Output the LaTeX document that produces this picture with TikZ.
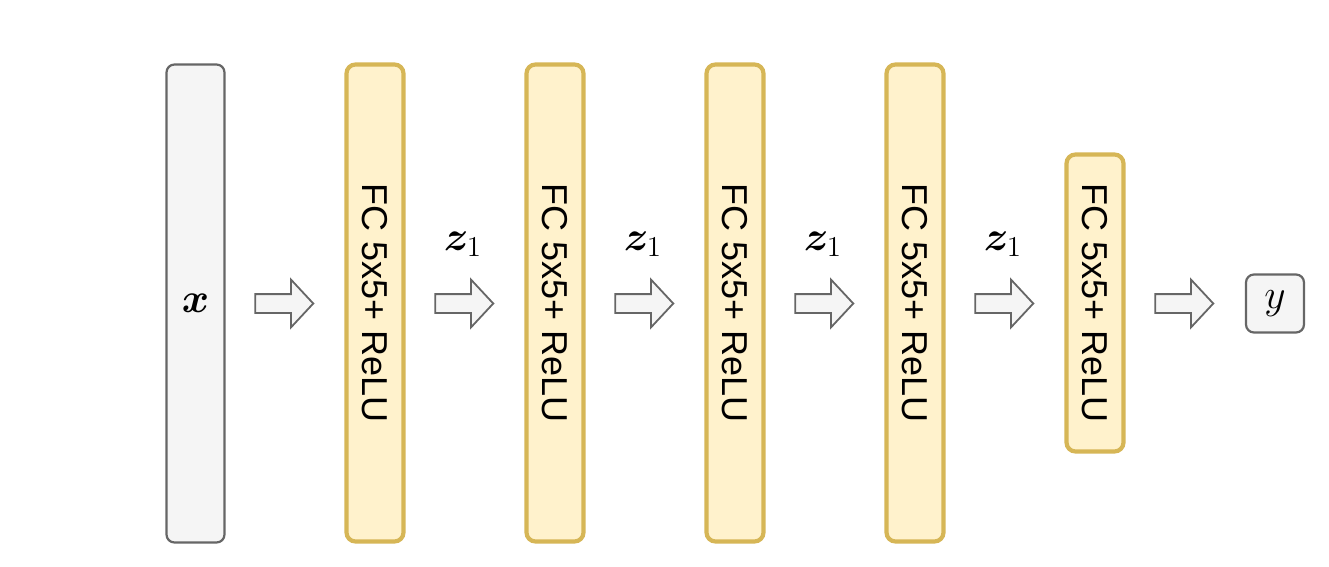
\documentclass[tikz,border=0pt]{standalone}
\usepackage[no-math]{fontspec}
\setmainfont{Liberation Sans}
\usepackage{bm}
\usetikzlibrary{shapes.arrows}
\definecolor{gfill}{HTML}{F5F5F5}
\definecolor{gline}{HTML}{666666}
\definecolor{yfill}{HTML}{FFF2CC}
\definecolor{yline}{HTML}{D6B656}
\begin{document}
\begin{tikzpicture}[x=0.5pt,y=-0.5pt,
  graybox/.style={draw=gline, fill=gfill, line width=1.1pt, rounded corners=4pt, inner sep=0pt},
  fcbox/.style={draw=yline, fill=yfill, line width=2.1pt, rounded corners=4.5pt, inner sep=0pt,
    minimum width=28.5pt, font=\fontsize{18}{20}\selectfont},
  blockarrow/.style={single arrow, draw=gline, fill=gfill, line width=0.9pt, inner sep=0pt,
    inner ysep=4.25pt, minimum height=29pt, minimum width=23pt, single arrow head extend=7.25pt,
    single arrow tip angle=94, anchor=tip},
  zlab/.style={inner sep=0pt, font=\fontsize{22}{24}\selectfont}
]
\useasboundingbox (0,0) rectangle (1329,567);
\node[graybox, minimum width=29pt, minimum height=239pt, font=\fontsize{22}{24}\selectfont] (x) at (195.5,303.5) {$\bm{x}$};
\node[fcbox, minimum height=238.5pt] (f1) at (375,303) {};
\node[fcbox, minimum height=238.5pt] (f2) at (555,303) {};
\node[fcbox, minimum height=238.5pt] (f3) at (735,303) {};
\node[fcbox, minimum height=238.5pt] (f4) at (915,303) {};
\node[fcbox, minimum height=148.5pt] (f5) at (1095,303) {};
\foreach \n in {f1,f2,f3,f4,f5}{
  \node[rotate=-90, inner sep=0pt, font=\fontsize{18}{20}\selectfont] (t\n) at (\n.center) {FC 5x5+ ReLU};
}
\node[graybox, minimum width=29pt, minimum height=29pt, font=\fontsize{22}{24}\selectfont] (y) at (1275,303.5) {$y$};
\node[blockarrow] (a0) at (314.5,303.5) {};
\node[blockarrow] (a1) at (494.5,303.5) {};
\node[blockarrow] (a2) at (674.5,303.5) {};
\node[blockarrow] (a3) at (854.5,303.5) {};
\node[blockarrow] (a4) at (1034.5,303.5) {};
\node[blockarrow] (a5) at (1214.5,303.5) {};
\node[zlab] (z1) at (463,244) {$\bm{z}_1$};
\node[zlab] (z2) at (643,244) {$\bm{z}_1$};
\node[zlab] (z3) at (823,244) {$\bm{z}_1$};
\node[zlab] (z4) at (1003,244) {$\bm{z}_1$};
\end{tikzpicture}
\end{document}
